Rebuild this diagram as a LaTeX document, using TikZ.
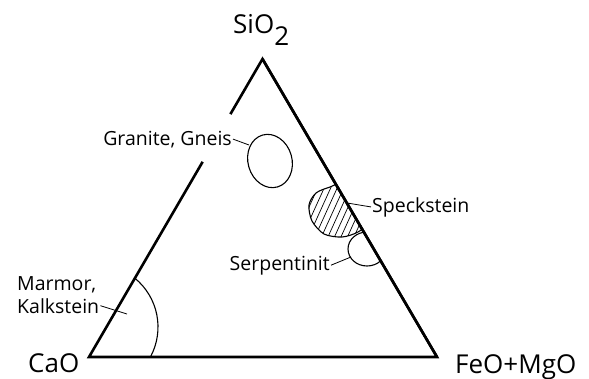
\documentclass[tikz,border=0pt]{standalone}
\usepackage{fontspec}
\setmainfont{Open Sans}
\usetikzlibrary{shapes.geometric,calc}
\begin{document}
\begin{tikzpicture}[x=1pt,y=-1pt,
  edge/.style={line width=2.6pt, line join=miter},
  outline/.style={line width=1.1pt},
  hatch/.style={line width=0.7pt},
  leader/.style={line width=0.8pt},
  biglabel/.style={font=\fontsize{26}{30}\selectfont, inner sep=0pt},
  smalllabel/.style={font=\fontsize{19.5}{23}\selectfont, inner sep=1pt}]
\useasboundingbox (0,0) rectangle (589,378);
% triangle
\coordinate (top) at (262.5,59);
\coordinate (left) at (89,357);
\coordinate (right) at (437,357);
\coordinate (gapU) at ($(top)!0.185!(left)$);
\coordinate (gapL) at ($(top)!0.345!(left)$);
\draw[edge] (gapL) -- (left) -- (right) -- (top) -- (gapU);
% corner labels
\node[biglabel, anchor=base west] (sio2) at (233,33) {SiO\raisebox{-12pt}{2}};
\node[biglabel, anchor=base west] (cao) at (28,372) {CaO};
\node[biglabel, anchor=base west] (femg) at (455,373) {FeO+MgO};
% Granite, Gneis
\node[draw, outline, ellipse, minimum width=44pt, minimum height=54pt, inner sep=0pt, rotate=16] (granell) at (270,161) {};
\node[smalllabel, anchor=base east] (gran) at (233,145) {Granite, Gneis};
\coordinate (granhook) at (249,145);
\draw[leader] (gran.east) -- (granhook);
% Speckstein
\begin{scope}
  \clip (top) -- (left) -- (right) -- cycle;
  \begin{scope}
    \clip plot[smooth cycle] coordinates {(345,183) (330,187) (316,193) (309,205) (312,221) (324,234) (342,237) (358,232) (368,222) (365,200)};
    \foreach \x in {270,276.5,...,380} \draw[hatch] (\x,250) -- ++(30,-66);
  \end{scope}
  \draw[outline] plot[smooth cycle] coordinates {(345,183) (330,187) (316,193) (309,205) (312,221) (324,234) (342,237) (358,232) (368,222) (365,200)};
  \draw[outline] (367,249) ellipse[x radius=19, y radius=17];
\end{scope}
\draw[edge] (right) -- (top);
\node[smalllabel, anchor=base west] (speck) at (371,212) {Speckstein};
\coordinate (speckhook) at ($(top)!0.483!(right)$);
\draw[leader] (speckhook) -- (speck.west);
% Serpentinit
\node[smalllabel, anchor=base east] (serp) at (331,270) {Serpentinit};
\coordinate (serphook) at (351,257);
\draw[leader] (serp.east) -- (serphook);
% Marmor, Kalkstein
\node[smalllabel, anchor=base west] (marm) at (16,290) {Marmor,};
\node[smalllabel, anchor=base west] (kalk) at (16,313) {Kalkstein};
\coordinate (kalkhook) at (127,314);
\draw[leader] (kalk.east) -- (kalkhook);
\coordinate (marmc) at (95,327);
\draw[outline] (marmc) ++(-51:63) arc[start angle=-51, end angle=28, radius=63];
\end{tikzpicture}
\end{document}
